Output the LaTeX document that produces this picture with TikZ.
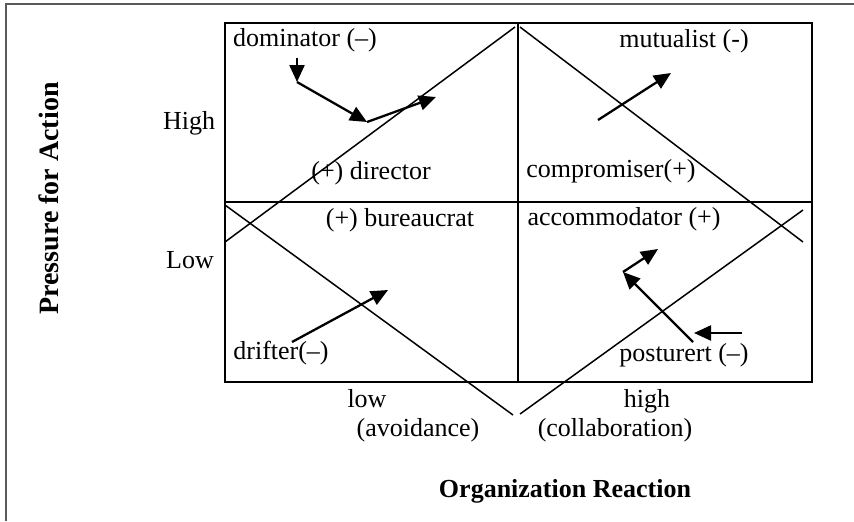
\documentclass[tikz,border=0pt]{standalone}
\usepackage{fontspec}
\setmainfont{Liberation Serif}
\usetikzlibrary{arrows.meta}
\begin{document}
\begin{tikzpicture}[x=0.5pt,y=-0.5pt,
  lbl/.style={inner sep=0pt, font=\fontsize{13}{15}\selectfont},
  axis/.style={inner sep=0pt, font=\fontsize{13}{15}\selectfont\bfseries},
  grid line/.style={line width=1.2pt},
  diag/.style={line width=0.75pt},
  move/.style={line width=1.15pt, -{Triangle[length=8.5pt,width=7.5pt]}},
  frame/.style={line width=1pt, draw=black!65}]
\useasboundingbox (0,0) rectangle (854,521);

% page frame (left and top edges)
\draw[frame] (6,521) -- (6,4) -- (854,4);

% 2x2 grid
\draw[grid line] (225,23) rectangle (812,382);
\draw[grid line] (518,23) -- (518,382);
\draw[grid line] (225,202) -- (812,202);

% crossing diagonals
\draw[diag] (225,242) -- (515,27);
\draw[diag] (520,27) -- (803,242);
\draw[diag] (225,205) -- (513,415);
\draw[diag] (520,414) -- (803,210);

% movement arrows
\coordinate (dA) at (297,58);
\coordinate (dB) at (297,82);
\coordinate (dC) at (367,122);
\coordinate (dD) at (436,97);
\draw[move] (dA) -- (dB);
\draw[move] (dB) -- (dC);
\draw[move] (dC) -- (dD);

\coordinate (mA) at (598,120);
\coordinate (mB) at (671,73);
\draw[move] (mA) -- (mB);

\coordinate (fA) at (292,342);
\coordinate (fB) at (388,290);
\draw[move] (fA) -- (fB);

\coordinate (pA) at (742,333);
\coordinate (pB) at (694,333);
\coordinate (pC) at (693,342);
\coordinate (pD) at (623,272);
\coordinate (pE) at (658,249);
\draw[move] (pA) -- (pB);
\draw[move] (pC) -- (pD);
\draw[move] (pD) -- (pE);

% quadrant labels
\node[lbl] (dom) at (305,40) {dominator (–)};
\node[lbl] (dir) at (371,173.5) {(+) director};
\node[lbl] (mut) at (684,41) {mutualist (-)};
\node[lbl] (com) at (611,171) {compromiser(+)};
\node[lbl] (bur) at (400,220) {(+) bureaucrat};
\node[lbl] (dri) at (281,353) {drifter(–)};
\node[lbl] (acc) at (624,219) {accommodator (+)};
\node[lbl] (pos) at (684,355) {posturert (–)};

% axis labels
\node[lbl, anchor=base] (high) at (189,129) {High};
\node[lbl, anchor=base] (low) at (190,268) {Low};
\node[lbl, anchor=base] (xlow) at (367,407) {low};
\node[lbl] (xavoid) at (418,430) {(avoidance)};
\node[lbl, anchor=base] (xhigh) at (647,407) {high};
\node[lbl] (xcollab) at (615,430) {(collaboration)};
\node[axis] (xtitle) at (565,491) {Organization Reaction};
\node[axis, rotate=90, font=\fontsize{14}{16}\selectfont\bfseries] (ytitle) at (48.5,198.5) {Pressure for Action};
\end{tikzpicture}
\end{document}
